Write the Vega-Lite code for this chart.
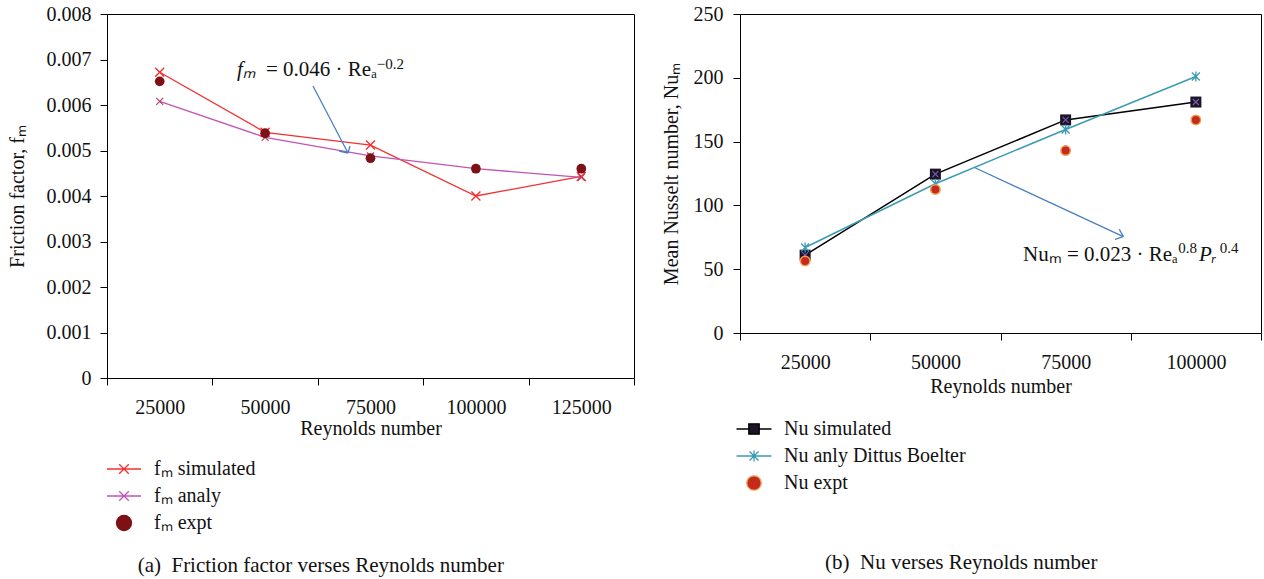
{
  "$schema": "https://vega.github.io/schema/vega-lite/v6.json",
  "padding": {"left": 6, "top": 3, "right": 2, "bottom": 0},
  "config": {
    "font": "Liberation Serif",
    "view": {"stroke": "#000", "strokeWidth": 1},
    "axis": {
      "labelFont": "Liberation Serif", "titleFont": "Liberation Serif",
      "labelFontSize": 20, "titleFontSize": 20, "titleFontWeight": "normal",
      "labelColor": "#111", "titleColor": "#111",
      "domainColor": "#000", "tickColor": "#000", "tickSize": 7, "grid": false,
      "labelFlush": false, "labelBound": false, "labelOverlap": false
    },
    "legend": {
      "labelFont": "Liberation Serif", "labelFontSize": 20, "labelColor": "#111", "labelLimit": 400,
      "orient": "none", "direction": "vertical", "padding": 0,
      "symbolSize": 400, "symbolStrokeWidth": 1.3, "symbolOpacity": 1,
      "rowPadding": 6, "labelOffset": 19, "title": null
    },
    "title": {"font": "Liberation Serif", "fontSize": 21, "fontWeight": "normal", "color": "#111", "frame": "bounds"}
  },
  "datasets": {
    "left": [
      {"Re": 25000, "f": 0.00672, "s": "fₘ simulated"},
      {"Re": 50000, "f": 0.00540, "s": "fₘ simulated"},
      {"Re": 75000, "f": 0.00512, "s": "fₘ simulated"},
      {"Re": 100000, "f": 0.00400, "s": "fₘ simulated"},
      {"Re": 125000, "f": 0.00443, "s": "fₘ simulated"},
      {"Re": 25000, "f": 0.00608, "s": "fₘ analy"},
      {"Re": 50000, "f": 0.00529, "s": "fₘ analy"},
      {"Re": 75000, "f": 0.00488, "s": "fₘ analy"},
      {"Re": 100000, "f": 0.00460, "s": "fₘ analy"},
      {"Re": 125000, "f": 0.00441, "s": "fₘ analy"},
      {"Re": 25000, "f": 0.00652, "s": "fₘ expt"},
      {"Re": 50000, "f": 0.00538, "s": "fₘ expt"},
      {"Re": 75000, "f": 0.00483, "s": "fₘ expt"},
      {"Re": 100000, "f": 0.00460, "s": "fₘ expt"},
      {"Re": 125000, "f": 0.00460, "s": "fₘ expt"}
    ],
    "right": [
      {"Re": 25000, "nu": 61, "s": "Nu simulated"},
      {"Re": 50000, "nu": 124.5, "s": "Nu simulated"},
      {"Re": 75000, "nu": 167, "s": "Nu simulated"},
      {"Re": 100000, "nu": 181, "s": "Nu simulated"},
      {"Re": 25000, "nu": 67, "s": "Nu anly Dittus Boelter"},
      {"Re": 50000, "nu": 117, "s": "Nu anly Dittus Boelter"},
      {"Re": 75000, "nu": 159.5, "s": "Nu anly Dittus Boelter"},
      {"Re": 100000, "nu": 201, "s": "Nu anly Dittus Boelter"},
      {"Re": 25000, "nu": 56.5, "s": "Nu expt"},
      {"Re": 50000, "nu": 112.5, "s": "Nu expt"},
      {"Re": 75000, "nu": 143, "s": "Nu expt"},
      {"Re": 100000, "nu": 167, "s": "Nu expt"}
    ],
    "leftArrow": [
      {"x": 61361, "y": 0.006418, "x2": 69663, "y2": 0.004945},
      {"x": 67528, "y": 0.004989, "x2": 69663, "y2": 0.004945},
      {"x": 70138, "y": 0.005099, "x2": 69663, "y2": 0.004945}
    ],
    "leftText": [
      {"x": 43335, "y": 0.006637, "t": "fₘ", "kind": "ital"},
      {"x": 50213, "y": 0.006637, "t": "= 0.046 · Reₐ", "kind": "main"},
      {"x": 76500, "y": 0.006790, "t": "−0.2", "kind": "sup"}
    ],
    "rightArrow": [
      {"x": 57606, "y": 129.5, "x2": 86070, "y2": 75.5},
      {"x": 85302, "y": 81.3, "x2": 86070, "y2": 75.5},
      {"x": 84477, "y": 73.4, "x2": 86070, "y2": 75.5}
    ],
    "rightText": [
      {"x": 66819, "y": 56.4, "t": "Nuₘ = 0.023 · Reₐ", "kind": "main"},
      {"x": 96600, "y": 62.7, "t": "0.8", "kind": "sup"},
      {"x": 100600, "y": 56.4, "t": "Pᵣ", "kind": "ital"},
      {"x": 104600, "y": 62.7, "t": "0.4", "kind": "sup"}
    ]
  },
  "spacing": 25,
  "hconcat": [
    {
      "width": 527, "height": 364,
      "title": {"text": "(a)\u2002Friction factor verses Reynolds number", "orient": "bottom", "anchor": "middle", "offset": 21},
      "encoding": {
        "x": {"field": "Re", "type": "quantitative",
          "scale": {"domain": [12500, 137500], "nice": false, "zero": false},
          "axis": {"values": [12500, 37500, 62500, 87500, 112500, 137500],
            "labelExpr": "datum.value > 20000 ? format(datum.value - 12500, 'd') : ''",
            "labelOffset": -52.7, "labelPadding": 12, "titlePadding": 1, "title": "Reynolds number"}},
        "y": {"field": "f", "type": "quantitative",
          "scale": {"domain": [0, 0.008], "nice": false},
          "axis": {"values": [0, 0.001, 0.002, 0.003, 0.004, 0.005, 0.006, 0.007, 0.008],
            "labelExpr": "datum.value == 0 ? '0' : format(datum.value, '.3f')",
            "labelPadding": 9, "titlePadding": 19, "title": "Friction factor, fₘ"}}
      },
      "layer": [
        {
          "data": {"name": "left"},
          "mark": {"type": "point", "filled": true, "opacity": 0},
          "encoding": {
            "shape": {"field": "s", "type": "nominal",
              "scale": {"domain": ["fₘ simulated", "fₘ analy", "fₘ expt"],
                "range": ["M-1.7,0H1.7M-0.48,-0.48L0.48,0.48M-0.48,0.48L0.48,-0.48",
                          "M-1.7,0H1.7M-0.48,-0.48L0.48,0.48M-0.48,0.48L0.48,-0.48",
                          "M-0.75,0A0.75,0.75 0 1,0 0.75,0A0.75,0.75 0 1,0 -0.75,0Z"]},
              "legend": {"legendX": 6, "legendY": 444}},
            "color": {"field": "s", "type": "nominal",
              "scale": {"domain": ["fₘ simulated", "fₘ analy", "fₘ expt"], "range": ["#f23030", "#c354b4", "#7d1115"]},
              "legend": {"legendX": 6, "legendY": 444}},
            "stroke": {"field": "s", "type": "nominal",
              "scale": {"domain": ["fₘ simulated", "fₘ analy", "fₘ expt"], "range": ["#f23030", "#c354b4", "#7d1115"]},
              "legend": {"legendX": 6, "legendY": 444}}
          }
        },
        {
          "data": {"name": "left"},
          "transform": [{"filter": "datum.s != 'fₘ expt'"}],
          "mark": {"type": "line", "strokeWidth": 1.3},
          "encoding": {"color": {"field": "s", "type": "nominal"}}
        },
        {
          "data": {"name": "left"},
          "transform": [{"filter": "datum.s == 'fₘ simulated'"}],
          "mark": {"type": "point", "filled": false, "shape": "M-1,-1L1,1M-1,1L1,-1", "size": 81, "strokeWidth": 1.4, "color": "#f23030", "opacity": 1}
        },
        {
          "data": {"name": "left"},
          "transform": [{"filter": "datum.s == 'fₘ analy'"}],
          "mark": {"type": "point", "filled": false, "shape": "M-1,-1L1,1M-1,1L1,-1", "size": 49, "strokeWidth": 1.2, "color": "#b84060", "opacity": 1}
        },
        {
          "data": {"name": "left"},
          "transform": [{"filter": "datum.s == 'fₘ expt'"}],
          "mark": {"type": "point", "filled": true, "shape": "circle", "size": 95, "color": "#7d1115", "opacity": 1}
        },
        {
          "data": {"name": "leftArrow"},
          "mark": {"type": "rule", "color": "#4a7fc1", "strokeWidth": 1.3},
          "encoding": {"x": {"field": "x", "type": "quantitative"}, "y": {"field": "y", "type": "quantitative"},
            "x2": {"field": "x2"}, "y2": {"field": "y2"}}
        },
        {
          "data": {"name": "leftText"},
          "transform": [{"filter": "datum.kind == 'ital'"}],
          "mark": {"type": "text", "align": "left", "baseline": "alphabetic", "fontSize": 21, "fontStyle": "italic", "color": "#111"},
          "encoding": {"x": {"field": "x", "type": "quantitative"}, "y": {"field": "y", "type": "quantitative"}, "text": {"field": "t"}}
        },
        {
          "data": {"name": "leftText"},
          "transform": [{"filter": "datum.kind == 'main'"}],
          "mark": {"type": "text", "align": "left", "baseline": "alphabetic", "fontSize": 21, "color": "#111"},
          "encoding": {"x": {"field": "x", "type": "quantitative"}, "y": {"field": "y", "type": "quantitative"}, "text": {"field": "t"}}
        },
        {
          "data": {"name": "leftText"},
          "transform": [{"filter": "datum.kind == 'sup'"}],
          "mark": {"type": "text", "align": "left", "baseline": "alphabetic", "fontSize": 15, "color": "#111"},
          "encoding": {"x": {"field": "x", "type": "quantitative"}, "y": {"field": "y", "type": "quantitative"}, "text": {"field": "t"}}
        }
      ]
    },
    {
      "width": 521, "height": 319,
      "title": {"text": "(b)\u2002Nu verses Reynolds number", "orient": "bottom", "anchor": "middle", "offset": 59},
      "encoding": {
        "x": {"field": "Re", "type": "quantitative",
          "scale": {"domain": [12500, 112500], "nice": false, "zero": false},
          "axis": {"values": [12500, 37500, 62500, 87500, 112500],
            "labelExpr": "datum.value > 20000 ? format(datum.value - 12500, 'd') : ''",
            "labelOffset": -65.1, "labelPadding": 12, "titlePadding": 4, "title": "Reynolds number"}},
        "y": {"field": "nu", "type": "quantitative",
          "scale": {"domain": [0, 250], "nice": false},
          "axis": {"values": [0, 50, 100, 150, 200, 250],
            "labelPadding": 10, "titlePadding": 12, "title": "Mean Nusselt number, Nuₘ"}}
      },
      "layer": [
        {
          "data": {"name": "right"},
          "mark": {"type": "point", "filled": true, "opacity": 0},
          "encoding": {
            "shape": {"field": "s", "type": "nominal",
              "scale": {"domain": ["Nu simulated", "Nu anly Dittus Boelter", "Nu expt"],
                "range": ["M-1.75,0H-0.52M0.52,0H1.75M-0.52,-0.52H0.52V0.52H-0.52Z",
                          "M-1.75,0H1.75M-0.45,-0.45L0.45,0.45M-0.45,0.45L0.45,-0.45M0,-0.55V0.55",
                          "M-0.72,0A0.72,0.72 0 1,0 0.72,0A0.72,0.72 0 1,0 -0.72,0Z"]},
              "legend": {"legendX": 3, "legendY": 404}},
            "color": {"field": "s", "type": "nominal",
              "scale": {"domain": ["Nu simulated", "Nu anly Dittus Boelter", "Nu expt"], "range": ["#1a1426", "#3b9bb3", "#c52a1e"]},
              "legend": {"legendX": 3, "legendY": 404}},
            "stroke": {"field": "s", "type": "nominal",
              "scale": {"domain": ["Nu simulated", "Nu anly Dittus Boelter", "Nu expt"], "range": ["#000000", "#3b9bb3", "#f0a050"]},
              "legend": {"legendX": 3, "legendY": 404}}
          }
        },
        {
          "data": {"name": "right"},
          "transform": [{"filter": "datum.s == 'Nu simulated'"}],
          "mark": {"type": "line", "strokeWidth": 1.5, "color": "#000"}
        },
        {
          "data": {"name": "right"},
          "transform": [{"filter": "datum.s == 'Nu anly Dittus Boelter'"}],
          "mark": {"type": "line", "strokeWidth": 1.5, "color": "#3b9bb3"}
        },
        {
          "data": {"name": "right"},
          "transform": [{"filter": "datum.s == 'Nu simulated'"}],
          "mark": {"type": "point", "filled": true, "shape": "square", "size": 121, "color": "#1a1426", "opacity": 1}
        },
        {
          "data": {"name": "right"},
          "transform": [{"filter": "datum.s == 'Nu simulated'"}],
          "mark": {"type": "point", "filled": false, "shape": "M-1,-1L1,1M-1,1L1,-1", "size": 36, "strokeWidth": 1.2, "color": "#7a5ab0", "opacity": 1}
        },
        {
          "data": {"name": "right"},
          "transform": [{"filter": "datum.s == 'Nu anly Dittus Boelter'"}],
          "mark": {"type": "point", "filled": false, "shape": "M-0.8,-0.8L0.8,0.8M-0.8,0.8L0.8,-0.8M0,-1V1", "size": 100, "strokeWidth": 1.3, "color": "#3b9bb3", "opacity": 1}
        },
        {
          "data": {"name": "right"},
          "transform": [{"filter": "datum.s == 'Nu expt'"}],
          "mark": {"type": "point", "filled": true, "shape": "circle", "size": 90, "color": "#c52a1e", "stroke": "#f0a050", "strokeWidth": 1.5, "opacity": 1}
        },
        {
          "data": {"name": "rightArrow"},
          "mark": {"type": "rule", "color": "#4a7fc1", "strokeWidth": 1.3},
          "encoding": {"x": {"field": "x", "type": "quantitative"}, "y": {"field": "y", "type": "quantitative"},
            "x2": {"field": "x2"}, "y2": {"field": "y2"}}
        },
        {
          "data": {"name": "rightText"},
          "transform": [{"filter": "datum.kind == 'main'"}],
          "mark": {"type": "text", "align": "left", "baseline": "alphabetic", "fontSize": 21, "color": "#111"},
          "encoding": {"x": {"field": "x", "type": "quantitative"}, "y": {"field": "y", "type": "quantitative"}, "text": {"field": "t"}}
        },
        {
          "data": {"name": "rightText"},
          "transform": [{"filter": "datum.kind == 'ital'"}],
          "mark": {"type": "text", "align": "left", "baseline": "alphabetic", "fontSize": 21, "fontStyle": "italic", "color": "#111"},
          "encoding": {"x": {"field": "x", "type": "quantitative"}, "y": {"field": "y", "type": "quantitative"}, "text": {"field": "t"}}
        },
        {
          "data": {"name": "rightText"},
          "transform": [{"filter": "datum.kind == 'sup'"}],
          "mark": {"type": "text", "align": "left", "baseline": "alphabetic", "fontSize": 15, "color": "#111"},
          "encoding": {"x": {"field": "x", "type": "quantitative"}, "y": {"field": "y", "type": "quantitative"}, "text": {"field": "t"}}
        }
      ]
    }
  ],
  "resolve": {"scale": {"color": "independent", "stroke": "independent", "shape": "independent", "x": "independent", "y": "independent"}, "legend": {"color": "independent", "shape": "independent", "stroke": "independent"}}
}
